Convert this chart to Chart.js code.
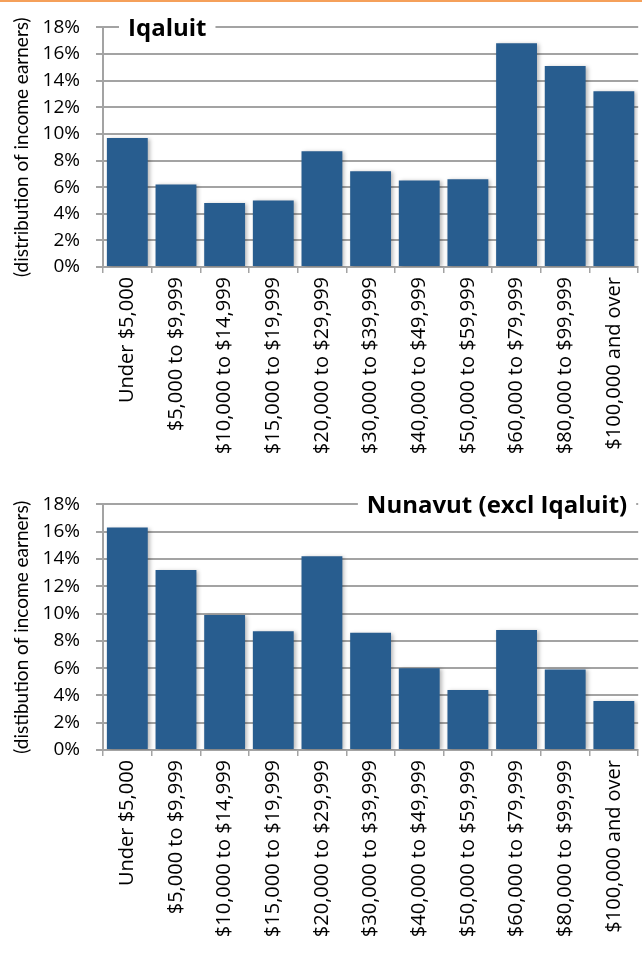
<!DOCTYPE html>
<html>
<head>
<meta charset="utf-8">
<script src="https://cdn.jsdelivr.net/npm/chart.js@4"></script>
<style>
  html, body { margin: 0; padding: 0; background: #fff; }
  body { width: 642px; height: 954px; position: relative; overflow: hidden; }
  #bar { position: absolute; left: 0; top: 0; width: 642px; height: 2px; background: #f5a05a; }
  .box { position: absolute; left: 0; width: 642px; height: 477px; }
  #b1 { top: 0; }
  #b2 { top: 477px; }
</style>
</head>
<body>
<div id="bar"></div>
<div class="box" id="b1"><canvas id="c1" width="642" height="477"></canvas></div>
<div class="box" id="b2"><canvas id="c2" width="642" height="477"></canvas></div>
<script>
const categories = [
  'Under $5,000', '$5,000 to $9,999', '$10,000 to $14,999', '$15,000 to $19,999',
  '$20,000 to $29,999', '$30,000 to $39,999', '$40,000 to $49,999', '$50,000 to $59,999',
  '$60,000 to $79,999', '$80,000 to $99,999', '$100,000 and over'
];
const iqaluitValues = [9.7, 6.2, 4.8, 5.0, 8.7, 7.2, 6.5, 6.6, 16.8, 15.1, 13.2];
const nunavutValues = [16.3, 13.2, 9.9, 8.7, 14.2, 8.6, 6.0, 4.4, 8.8, 5.9, 3.6];
const yTicks = [0, 2, 4, 6, 8, 10, 12, 14, 16, 18];
const titleTop = 'Iqaluit';
const titleBottom = 'Nunavut (excl Iqaluit)';
const yTitleTop = '(distribution of income earners)';
const yTitleBottom = '(distibution of income earners)';

const FONT = '"Open Sans"';
const TFONT = 'Lato';
const BAR = '#285d8f';
const GRID = '#a3a3a3';

const shadowPlugin = {
  id: 'barShadow',
  beforeDatasetsDraw(chart) {
    const ctx = chart.ctx;
    ctx.save();
    ctx.shadowColor = 'rgba(0,0,0,0.28)';
    ctx.shadowBlur = 4;
    ctx.shadowOffsetX = 2;
    ctx.shadowOffsetY = 1;
  },
  afterDatasetsDraw(chart) {
    chart.ctx.restore();
  }
};

const boxTitlePlugin = {
  id: 'boxTitle',
  afterDraw(chart, args, opts) {
    const ctx = chart.ctx;
    const y = chart.scales.y.getPixelForValue(18);
    ctx.save();
    ctx.font = 'bold 24px ' + FONT;
    ctx.textBaseline = 'middle';
    const w = ctx.measureText(opts.text).width;
    let x0;
    if (opts.align === 'left') {
      x0 = chart.chartArea.left + opts.offset;
    } else {
      x0 = chart.chartArea.right - opts.offset - w;
    }
    ctx.fillStyle = '#fff';
    ctx.fillRect(x0 - 9, y - 12, w + 18, 24);
    ctx.fillStyle = '#000';
    ctx.textAlign = 'left';
    ctx.fillText(opts.text, x0, y + 2);
    ctx.restore();
  }
};

function makeChart(id, values, yTitle, title, align, offset, padTop, xHeight) {
  return new Chart(document.getElementById(id), {
    type: 'bar',
    data: {
      labels: categories,
      datasets: [{
        data: values,
        backgroundColor: BAR,
        borderWidth: 0,
        barPercentage: 0.84,
        categoryPercentage: 1.0
      }]
    },
    options: {
      responsive: false,
      animation: false,
      events: [],
      layout: { padding: { top: padTop, right: 3, left: 0, bottom: 0 } },
      plugins: {
        legend: { display: false },
        tooltip: { enabled: false },
        title: { display: false },
        boxTitle: { text: title, align: align, offset: offset }
      },
      scales: {
        x: {
          offset: true,
          afterFit(scale) { scale.height = xHeight; },
          grid: {
            offset: true,
            drawOnChartArea: false,
            drawTicks: true,
            tickLength: 6,
            color: GRID,
            lineWidth: 1.5
          },
          border: { display: true, color: GRID, width: 2 },
          ticks: {
            autoSkip: false,
            minRotation: 90,
            maxRotation: 90,
            padding: 4,
            color: '#000',
            font: { family: FONT, size: 20 }
          }
        },
        y: {
          min: 0,
          max: 18,
          afterFit(scale) { scale.width = 103; },
          afterBuildTicks(scale) { scale.ticks = yTicks.map(v => ({ value: v })); },
          grid: {
            color: GRID,
            lineWidth: 2,
            drawTicks: true,
            tickLength: 7
          },
          border: { display: true, color: GRID, width: 2 },
          ticks: {
            padding: 16,
            color: '#000',
            font: { family: FONT, size: 19 },
            callback: v => v + '%'
          },
          title: {
            display: true,
            text: yTitle,
            color: '#000',
            font: { family: TFONT, size: 19 },
            padding: { top: 10, bottom: 0 }
          }
        }
      }
    },
    plugins: [shadowPlugin, boxTitlePlugin]
  });
}

makeChart('c1', iqaluitValues, yTitleTop, titleTop, 'left', 25, 24, 210);
makeChart('c2', nunavutValues, yTitleBottom, titleBottom, 'right', 11, 27, 204);
</script>
</body>
</html>
